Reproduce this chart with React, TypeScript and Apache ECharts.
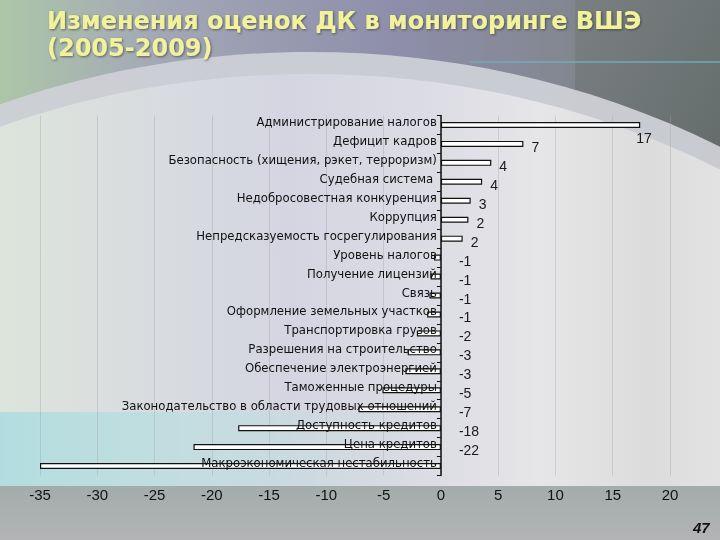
import React, { useEffect, useRef } from 'react';
import * as echarts from 'echarts';

// categories top to bottom
const categories = [
    'Администрирование налогов',
    'Дефицит кадров',
    'Безопасность (хищения, рэкет, терроризм)',
    'Судебная система ',
    'Недобросовестная конкуренция',
    'Коррупция',
    'Непредсказуемость госрегулирования',
    'Уровень налогов',
    'Получение лицензий',
    'Связь',
    'Оформление земельных участков',
    'Транспортировка грузов',
    'Разрешения на строительство',
    'Обеспечение электроэнергией',
    'Таможенные процедуры',
    'Законодательство в области трудовых отношений',
    'Доступность кредитов',
    'Цена кредитов',
    'Макроэкономическая нестабильность'
];

// bar lengths (labels show them rounded)
const changes = [
    17.4, 7.2, 4.4, 3.6, 2.6, 2.4, 1.9,
    -0.6, -0.9, -1.0, -1.2, -2.1, -2.9, -3.1, -5.1, -7.2, -17.7, -21.6, -35.0
];

const xMin = -35;
const xMax = 20;
const xStep = 5;

const titleText = 'Изменения оценок ДК в мониторинге ВШЭ\n(2005-2009)';
const slideNumber = '47';

const narrow = '"DejaVu Sans Condensed", "Arial Narrow", sans-serif';
const plain = '"Liberation Sans", Arial, sans-serif';

const W = 720;
const H = 540;
const gridLeft = 40;
const gridRight = 50;

const App: React.FC = () => {
    const chartRef = useRef<HTMLDivElement>(null);

    useEffect(() => {
        if (!chartRef.current) return;
        const chart = echarts.init(chartRef.current, undefined, { renderer: 'svg' });

        const last = changes.length - 1;
        const barData = changes.map((v, i) => ({
            value: v,
            label: {
                show: i !== last,
                distance: v >= 0 ? 8 : 18,
                offset: i === 0 ? [-12, 13] : [0, 3]
            }
        }));

        // category axis sits on the zero line, labels included
        const gridW = W - gridLeft - gridRight;
        const zeroShift = ((0 - xMin) / (xMax - xMin)) * gridW;

        chart.setOption({
            animation: false,
            title: {
                text: titleText,
                left: 42,
                top: 2,
                textStyle: {
                    color: '#f2f29c',
                    fontSize: 24,
                    fontWeight: 'bold',
                    fontFamily: '"DejaVu Sans", Verdana, sans-serif',
                    lineHeight: 27,
                    textShadowColor: 'rgba(40,40,40,0.6)',
                    textShadowBlur: 2,
                    textShadowOffsetX: 1,
                    textShadowOffsetY: 1
                }
            },
            graphic: [
                {
                    type: 'rect', z: -100, silent: true,
                    shape: { x: 0, y: 0, width: W, height: H },
                    style: {
                        fill: new echarts.graphic.LinearGradient(0, 0, 1, 0, [
                            { offset: 0, color: '#adc6a8' },
                            { offset: 0.22, color: '#a3a8b6' },
                            { offset: 0.55, color: '#8e8eaa' },
                            { offset: 0.78, color: '#838791' },
                            { offset: 1, color: '#6a7070' }
                        ])
                    }
                },
                {
                    type: 'rect', z: -99, silent: true,
                    shape: { x: 575, y: 0, width: 145, height: 260 },
                    style: {
                        fill: new echarts.graphic.LinearGradient(0, 0, 1, 1, [
                            { offset: 0, color: '#7a8082' },
                            { offset: 1, color: '#5f6766' }
                        ])
                    }
                },
                {
                    type: 'line', z: -98, silent: true,
                    shape: { x1: 470, y1: 62, x2: 720, y2: 62 },
                    style: { stroke: 'rgba(110,175,185,0.7)', lineWidth: 2 }
                },
                {
                    type: 'ellipse', z: -97, silent: true,
                    shape: { cx: 310, cy: 760, rx: 820, ry: 708 },
                    style: { fill: 'rgba(205,208,214,0.95)' }
                },
                {
                    type: 'ellipse', z: -96, silent: true,
                    shape: { cx: 310, cy: 778, rx: 815, ry: 704 },
                    style: {
                        fill: new echarts.graphic.LinearGradient(0, 0, 720, 0, [
                            { offset: 0, color: '#dde4db' },
                            { offset: 0.2, color: '#d9dcdf' },
                            { offset: 0.4, color: '#d4d5e1' },
                            { offset: 0.6, color: '#dcdce4' },
                            { offset: 0.75, color: '#e6e6e8' },
                            { offset: 0.9, color: '#dcdcdc' },
                            { offset: 1, color: '#e2e2e2' }
                        ], true)
                    }
                },
                {
                    type: 'rect', z: -95, silent: true,
                    shape: { x: 0, y: 412, width: 440, height: 76 },
                    style: {
                        fill: new echarts.graphic.LinearGradient(0, 0, 1, 0, [
                            { offset: 0, color: '#b2dde0' },
                            { offset: 0.6, color: 'rgba(190,222,224,0.6)' },
                            { offset: 1, color: 'rgba(210,220,222,0)' }
                        ])
                    }
                },
                {
                    type: 'rect', z: -94, silent: true,
                    shape: { x: 0, y: 486, width: W, height: 54 },
                    style: {
                        fill: new echarts.graphic.LinearGradient(0, 0, 0, 1, [
                            { offset: 0, color: '#a3acab' },
                            { offset: 1, color: '#b3b4b6' }
                        ])
                    }
                },
                {
                    type: 'text', z: 10,
                    x: 693, y: 520,
                    style: {
                        text: slideNumber,
                        fill: '#111',
                        font: 'italic bold 15px "Liberation Sans", Arial, sans-serif'
                    }
                }
            ],
            grid: {
                left: gridLeft,
                right: gridRight,
                top: 115.5,
                bottom: 64.5,
                containLabel: false,
                outerBoundsMode: 'none'
            },
            xAxis: {
                type: 'value',
                min: xMin,
                max: xMax,
                interval: xStep,
                axisLine: { show: false },
                axisTick: { show: false },
                axisLabel: {
                    margin: 11,
                    fontSize: 15,
                    fontFamily: plain,
                    color: '#111'
                },
                splitLine: {
                    show: true,
                    lineStyle: { color: 'rgba(160,160,160,0.35)', width: 1 }
                }
            },
            yAxis: {
                type: 'category',
                inverse: true,
                data: categories,
                position: 'left',
                offset: -zeroShift,
                z: 5,
                axisLine: {
                    show: true,
                    onZero: false,
                    lineStyle: { color: '#111', width: 1.5 }
                },
                axisTick: {
                    show: true,
                    inside: false,
                    length: 4,
                    lineStyle: { color: '#111', width: 1 }
                },
                axisLabel: {
                    interval: 0,
                    margin: 4,
                    fontSize: 13,
                    fontFamily: narrow,
                    color: '#111',
                    verticalAlign: 'bottom',
                    lineHeight: 7
                },
                splitLine: { show: false }
            },
            series: [
                {
                    type: 'bar',
                    data: barData,
                    barWidth: 6,
                    itemStyle: {
                        color: '#ffffff',
                        borderColor: '#111',
                        borderWidth: 1.2
                    },
                    label: {
                        show: true,
                        position: 'right',
                        formatter: (p: any) => String(Math.round(p.value)),
                        fontSize: 14,
                        fontFamily: plain,
                        color: '#1a1a1a'
                    }
                }
            ]
        });

        return () => {
            chart.dispose();
        };
    }, []);

    return (
        <div
            ref={chartRef}
            style={{ position: 'fixed', left: 0, top: 0, width: W, height: H }}
        />
    );
};

export default App;
